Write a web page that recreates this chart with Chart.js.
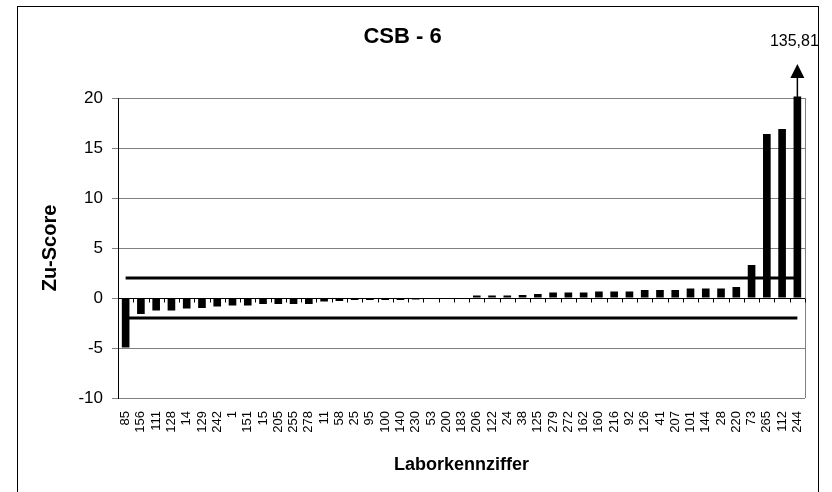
<!DOCTYPE html>
<html>
<head>
<meta charset="utf-8">
<script src="https://cdn.jsdelivr.net/npm/chart.js@4/dist/chart.umd.min.js"></script>
<style>
  html, body { margin: 0; padding: 0; background: #fff; overflow: hidden; }
  #wrap { position: relative; width: 832px; height: 492px; }
</style>
</head>
<body>
<div id="wrap"><canvas id="csb-chart"></canvas></div>
<script>
/*************************/
/**   Data              **/
/*************************/

var labs = ['85', '156', '111', '128', '14', '129', '242', '1', '151', '15', '205', '255', '278', '11', '58',
            '25', '95', '100', '140', '230', '53', '200', '183', '206', '122', '24', '38', '125', '279', '272',
            '162', '160', '216', '92', '126', '41', '207', '101', '144', '28', '220', '73', '265', '112', '244'];
var zuScore = [-4.95, -1.6, -1.25, -1.25, -1.05, -1.0, -0.85, -0.75, -0.75, -0.6, -0.6, -0.6, -0.6, -0.35, -0.3,
               -0.2, -0.2, -0.2, -0.2, -0.15, 0, 0, 0, 0.25, 0.25, 0.25, 0.3, 0.4, 0.55, 0.55,
               0.55, 0.65, 0.65, 0.65, 0.8, 0.8, 0.8, 0.95, 0.95, 0.95, 1.1, 3.3, 16.4, 16.9, 135.81];
var upperLimit = 2;
var lowerLimit = -2;
var yTicks = [-10, -5, 0, 5, 10, 15, 20];
var outlierText = '135,81';

var FONT = "'Liberation Sans', Arial, sans-serif";

/*************************/
/**   Extra drawing     **/
/*************************/

var framePlugin = {
    id: 'frame',
    beforeDraw: function (chart) {
        var ctx = chart.ctx;
        ctx.save();
        ctx.fillStyle = '#fff';
        ctx.fillRect(0, 0, chart.width, chart.height);
        ctx.strokeStyle = '#000';
        ctx.lineWidth = 1;
        ctx.strokeRect(17.5, 6.5, 801, 520);
        ctx.restore();
    },
    beforeDatasetsDraw: function (chart) {
        var ctx = chart.ctx, a = chart.chartArea;
        var x = chart.scales.x, y = chart.scales.y;
        var y0 = Math.round(y.getPixelForValue(0)) + 0.5;
        ctx.save();
        // plot area right border
        ctx.strokeStyle = '#808080';
        ctx.lineWidth = 1;
        ctx.beginPath();
        ctx.moveTo(Math.round(a.right) + 0.5, a.top);
        ctx.lineTo(Math.round(a.right) + 0.5, a.bottom);
        ctx.stroke();
        // small tick marks on the zero line between categories
        ctx.strokeStyle = '#000';
        ctx.beginPath();
        var w = (a.right - a.left) / labs.length;
        for (var i = 0; i <= labs.length; i++) {
            var px = Math.round(a.left + w * i) + 0.5;
            ctx.moveTo(px, y0);
            ctx.lineTo(px, y0 + 4);
        }
        ctx.stroke();
        ctx.restore();
    },
    afterDraw: function (chart) {
        var ctx = chart.ctx;
        var x = chart.scales.x, y = chart.scales.y;
        var px = x.getPixelForValue(labs.length - 1);
        var top = y.getPixelForValue(y.max) - 1;
        ctx.save();
        ctx.strokeStyle = '#000';
        ctx.fillStyle = '#000';
        ctx.lineWidth = 1.5;
        ctx.beginPath();
        ctx.moveTo(px, top);
        ctx.lineTo(px, top - 20);
        ctx.stroke();
        ctx.beginPath();
        ctx.moveTo(px - 7, top - 19);
        ctx.lineTo(px + 7, top - 19);
        ctx.lineTo(px, top - 33);
        ctx.closePath();
        ctx.fill();
        ctx.font = '16px ' + FONT;
        ctx.textAlign = 'center';
        ctx.textBaseline = 'middle';
        ctx.fillText(outlierText, px - 3, 42);
        ctx.restore();
    }
};

/*************************/
/**   Chart             **/
/*************************/

var ctxB = document.getElementById('csb-chart').getContext('2d');
var csbChart = new Chart(ctxB, {
    type: 'bar',
    data: {
        labels: labs,
        datasets: [
            {
                type: 'line',
                data: [{ x: labs[0], y: upperLimit }, { x: labs[labs.length - 1], y: upperLimit }],
                borderColor: '#000',
                borderWidth: 3,
                pointRadius: 0,
                order: 0
            },
            {
                type: 'line',
                data: [{ x: labs[0], y: lowerLimit }, { x: labs[labs.length - 1], y: lowerLimit }],
                borderColor: '#000',
                borderWidth: 3,
                pointRadius: 0,
                order: 0
            },
            {
                data: zuScore,
                backgroundColor: '#000',
                borderWidth: 0,
                categoryPercentage: 1,
                barPercentage: 0.5,
                clip: { left: false, top: 1.5, right: false, bottom: false },
                order: 1
            }
        ]
    },
    options: {
        responsive: true,
        maintainAspectRatio: false,
        animation: false,
        layout: { padding: { left: 0, right: 27, top: 0, bottom: 0 } },
        plugins: {
            legend: { display: false },
            tooltip: { enabled: false },
            title: {
                display: true,
                text: 'CSB - 6',
                color: '#000',
                font: { family: FONT, size: 22, weight: 'bold' },
                padding: { top: 24, bottom: 47.6 }
            }
        },
        scales: {
            x: {
                grid: { display: false },
                border: { display: false },
                ticks: {
                    autoSkip: false,
                    maxRotation: 90,
                    minRotation: 90,
                    padding: 5,
                    color: '#000',
                    font: { family: FONT, size: 13 }
                },
                title: {
                    display: true,
                    text: 'Laborkennziffer',
                    color: '#000',
                    font: { family: FONT, size: 18, weight: 'bold' },
                    padding: { top: 4, bottom: 16 }
                },
                afterFit: function (scale) { scale.height = 94; }
            },
            y: {
                min: -10,
                max: 20,
                afterBuildTicks: function (scale) {
                    scale.ticks = yTicks.map(function (v) { return { value: v }; });
                },
                grid: {
                    color: function (c) { return c.tick && c.tick.value === 0 ? '#000' : '#808080'; },
                    tickColor: '#808080',
                    tickLength: 6,
                    lineWidth: 1
                },
                border: { display: true, color: '#000', width: 1 },
                ticks: {
                    padding: 9,
                    color: '#000',
                    font: { family: FONT, size: 17 }
                },
                title: {
                    display: true,
                    text: 'Zu-Score',
                    color: '#000',
                    font: { family: FONT, size: 20, weight: 'bold' },
                    padding: { top: 38, bottom: 0 }
                },
                afterFit: function (scale) { scale.width = 118; }
            }
        }
    },
    plugins: [framePlugin]
});
</script>
</body>
</html>
